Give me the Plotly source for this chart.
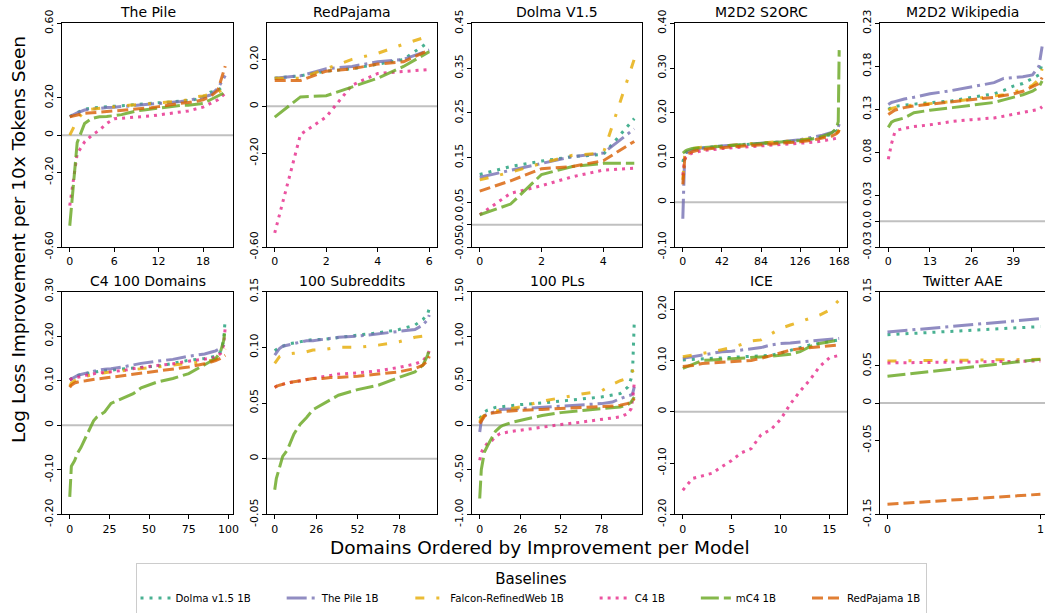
import plotly.graph_objects as go

# baselines (legend order) and their styling
MODELS = ["Dolma v1.5 1B", "The Pile 1B", "Falcon-RefinedWeb 1B", "C4 1B", "mC4 1B", "RedPajama 1B"]
COLORS = ["#1b9e77", "#7570b3", "#e6ab02", "#e7298a", "#66a61e", "#d95f02"]
DASHES = ["3px,6px", "20px,5px,3px,5px", "9px,12px,3px,12px", "3px,5px", "18px,5px", "11px,5px"]

# ---- The Pile ----
pile_x = list(range(22))
pile_y = {
    "Dolma v1.5 1B": [0.10, 0.12, 0.14, 0.145, 0.15, 0.152, 0.155, 0.158, 0.16, 0.163, 0.166, 0.168, 0.17, 0.173, 0.177, 0.182, 0.186, 0.192, 0.205, 0.23, 0.24, 0.27],
    "The Pile 1B": [0.10, 0.12, 0.135, 0.14, 0.145, 0.148, 0.15, 0.153, 0.157, 0.16, 0.163, 0.165, 0.168, 0.171, 0.175, 0.18, 0.186, 0.193, 0.204, 0.215, 0.25, 0.32],
    "Falcon-RefinedWeb 1B": [0.0, 0.08, 0.135, 0.14, 0.145, 0.15, 0.153, 0.156, 0.16, 0.163, 0.165, 0.168, 0.17, 0.173, 0.178, 0.183, 0.19, 0.205, 0.21, 0.22, 0.23, 0.25],
    "C4 1B": [-0.378, -0.10, -0.036, 0.0, 0.027, 0.063, 0.088, 0.09, 0.092, 0.095, 0.10, 0.103, 0.108, 0.113, 0.12, 0.125, 0.13, 0.14, 0.15, 0.17, 0.19, 0.225],
    "mC4 1B": [-0.486, -0.04, 0.063, 0.09, 0.099, 0.10, 0.105, 0.11, 0.12, 0.13, 0.135, 0.14, 0.145, 0.15, 0.155, 0.16, 0.16, 0.165, 0.17, 0.19, 0.21, 0.23],
    "RedPajama 1B": [0.099, 0.11, 0.117, 0.12, 0.123, 0.126, 0.129, 0.132, 0.135, 0.138, 0.14, 0.147, 0.153, 0.16, 0.165, 0.171, 0.175, 0.18, 0.19, 0.207, 0.24, 0.37],
}

# ---- RedPajama ----
redpj_x = list(range(7))
redpj_y = {
    "Dolma v1.5 1B": [0.12, 0.13, 0.15, 0.16, 0.18, 0.20, 0.276],
    "The Pile 1B": [0.12, 0.13, 0.16, 0.17, 0.19, 0.20, 0.24],
    "Falcon-RefinedWeb 1B": [0.12, 0.12, 0.16, 0.20, 0.226, 0.265, 0.30],
    "C4 1B": [-0.54, -0.12, -0.045, 0.09, 0.14, 0.15, 0.157],
    "mC4 1B": [-0.046, 0.04, 0.045, 0.083, 0.12, 0.17, 0.233],
    "RedPajama 1B": [0.11, 0.11, 0.15, 0.16, 0.18, 0.19, 0.24],
}

# ---- Dolma V1.5 ----
dolma_x = list(range(6))
dolma_y = {
    "Dolma v1.5 1B": [0.112, 0.13, 0.142, 0.152, 0.157, 0.237],
    "The Pile 1B": [0.106, 0.121, 0.136, 0.152, 0.16, 0.214],
    "Falcon-RefinedWeb 1B": [0.10, 0.117, 0.137, 0.155, 0.16, 0.37],
    "C4 1B": [0.022, 0.07, 0.087, 0.107, 0.122, 0.126],
    "mC4 1B": [0.022, 0.046, 0.112, 0.13, 0.137, 0.137],
    "RedPajama 1B": [0.075, 0.098, 0.125, 0.13, 0.143, 0.186],
}

# ---- M2D2 S2ORC ----
s2orc_x = [0, 1, 2, 3, 5, 10, 20, 42, 63, 84, 105, 126, 140, 150, 160, 165, 167, 168]
s2orc_y = {
    "Dolma v1.5 1B": [0.09, 0.10, 0.105, 0.11, 0.115, 0.118, 0.121, 0.125, 0.128, 0.131, 0.134, 0.138, 0.142, 0.146, 0.152, 0.158, 0.162, 0.168],
    "The Pile 1B": [-0.037, 0.08, 0.105, 0.108, 0.113, 0.117, 0.121, 0.126, 0.129, 0.132, 0.135, 0.14, 0.145, 0.15, 0.156, 0.162, 0.168, 0.175],
    "Falcon-RefinedWeb 1B": [0.05, 0.09, 0.105, 0.11, 0.115, 0.12, 0.123, 0.126, 0.129, 0.132, 0.135, 0.139, 0.143, 0.147, 0.15, 0.155, 0.158, 0.162],
    "C4 1B": [0.06, 0.085, 0.095, 0.10, 0.105, 0.11, 0.115, 0.12, 0.123, 0.126, 0.128, 0.131, 0.134, 0.137, 0.14, 0.143, 0.145, 0.147],
    "mC4 1B": [0.11, 0.112, 0.114, 0.115, 0.117, 0.12, 0.122, 0.125, 0.128, 0.131, 0.134, 0.138, 0.142, 0.147, 0.155, 0.165, 0.18, 0.34],
    "RedPajama 1B": [0.04, 0.08, 0.095, 0.10, 0.108, 0.113, 0.118, 0.122, 0.125, 0.128, 0.131, 0.135, 0.139, 0.143, 0.148, 0.153, 0.157, 0.162],
}

# ---- M2D2 Wikipedia ----
wiki_x = [0, 1, 2, 3, 5, 8, 13, 20, 26, 33, 36, 39, 42, 45, 47, 48]
wiki_y = {
    "Dolma v1.5 1B": [0.13, 0.132, 0.133, 0.134, 0.135, 0.136, 0.137, 0.14, 0.144, 0.148, 0.152, 0.157, 0.16, 0.166, 0.17, 0.183],
    "The Pile 1B": [0.1356, 0.138, 0.139, 0.14, 0.142, 0.144, 0.148, 0.152, 0.156, 0.161, 0.166, 0.167, 0.168, 0.17, 0.18, 0.203],
    "Falcon-RefinedWeb 1B": [0.129, 0.131, 0.132, 0.133, 0.134, 0.135, 0.137, 0.139, 0.142, 0.145, 0.147, 0.15, 0.153, 0.158, 0.165, 0.177],
    "C4 1B": [0.072, 0.09, 0.103, 0.106, 0.108, 0.11, 0.112, 0.116, 0.118, 0.12, 0.122, 0.124, 0.126, 0.128, 0.13, 0.133],
    "mC4 1B": [0.109, 0.115, 0.117, 0.118, 0.12, 0.126, 0.129, 0.132, 0.135, 0.138, 0.141, 0.144, 0.147, 0.151, 0.156, 0.163],
    "RedPajama 1B": [0.124, 0.127, 0.129, 0.13, 0.132, 0.134, 0.136, 0.138, 0.141, 0.144, 0.146, 0.148, 0.151, 0.156, 0.16, 0.167],
}

# ---- C4 100 Domains ----
c4d_x = [0, 1, 3, 5, 7, 10, 13, 15, 17, 22, 26, 35, 40, 45, 55, 65, 75, 85, 90, 92, 95, 97, 98]
c4d_y = {
    "Dolma v1.5 1B": [0.102, 0.105, 0.108, 0.112, 0.114, 0.116, 0.118, 0.12, 0.121, 0.123, 0.124, 0.127, 0.128, 0.129, 0.133, 0.139, 0.146, 0.15, 0.153, 0.155, 0.165, 0.19, 0.24],
    "The Pile 1B": [0.102, 0.104, 0.108, 0.112, 0.114, 0.117, 0.12, 0.122, 0.123, 0.126, 0.127, 0.132, 0.136, 0.139, 0.144, 0.148, 0.155, 0.16, 0.165, 0.167, 0.173, 0.18, 0.187],
    "Falcon-RefinedWeb 1B": [0.088, 0.095, 0.10, 0.105, 0.108, 0.11, 0.113, 0.114, 0.115, 0.118, 0.12, 0.123, 0.125, 0.126, 0.13, 0.134, 0.138, 0.143, 0.146, 0.148, 0.155, 0.165, 0.172],
    "C4 1B": [0.102, 0.104, 0.106, 0.108, 0.11, 0.112, 0.114, 0.116, 0.117, 0.119, 0.12, 0.124, 0.127, 0.13, 0.134, 0.138, 0.144, 0.148, 0.15, 0.152, 0.161, 0.18, 0.22],
    "mC4 1B": [-0.161, -0.092, -0.08, -0.062, -0.05, -0.026, -0.005, 0.01, 0.018, 0.03, 0.049, 0.064, 0.071, 0.084, 0.097, 0.105, 0.116, 0.136, 0.145, 0.15, 0.165, 0.19, 0.217],
    "RedPajama 1B": [0.085, 0.09, 0.095, 0.097, 0.099, 0.10, 0.102, 0.103, 0.104, 0.106, 0.108, 0.112, 0.114, 0.117, 0.121, 0.126, 0.131, 0.138, 0.142, 0.145, 0.15, 0.155, 0.157],
}

# ---- 100 Subreddits ----
subr_x = [0, 1, 3, 5, 8, 12, 16, 20, 24, 30, 35, 40, 52, 65, 78, 88, 93, 96, 97]
subr_y = {
    "Dolma v1.5 1B": [0.097, 0.098, 0.10, 0.101, 0.103, 0.104, 0.105, 0.106, 0.107, 0.107, 0.108, 0.109, 0.111, 0.113, 0.116, 0.12, 0.125, 0.13, 0.135],
    "The Pile 1B": [0.093, 0.095, 0.099, 0.101, 0.102, 0.104, 0.105, 0.106, 0.106, 0.107, 0.108, 0.109, 0.11, 0.112, 0.114, 0.116, 0.12, 0.125, 0.129],
    "Falcon-RefinedWeb 1B": [0.0856, 0.088, 0.0916, 0.093, 0.094, 0.0946, 0.095, 0.096, 0.0976, 0.098, 0.099, 0.10, 0.10, 0.102, 0.105, 0.109, 0.11, 0.111, 0.112],
    "C4 1B": [0.064, 0.065, 0.066, 0.067, 0.068, 0.069, 0.07, 0.071, 0.072, 0.074, 0.075, 0.076, 0.077, 0.079, 0.082, 0.085, 0.088, 0.093, 0.097],
    "mC4 1B": [-0.028, -0.018, -0.008, 0.002, 0.008, 0.022, 0.031, 0.037, 0.044, 0.049, 0.053, 0.057, 0.062, 0.066, 0.073, 0.078, 0.084, 0.093, 0.099],
    "RedPajama 1B": [0.064, 0.065, 0.066, 0.067, 0.068, 0.069, 0.07, 0.071, 0.072, 0.072, 0.073, 0.073, 0.074, 0.076, 0.078, 0.081, 0.084, 0.088, 0.092],
}

# ---- 100 PLs ----
pls_x = [0, 1, 2, 3, 5, 8, 10, 13, 15, 20, 26, 40, 52, 65, 78, 85, 90, 95, 97, 98, 99]
pls_y = {
    "Dolma v1.5 1B": [0.075, 0.10, 0.13, 0.15, 0.17, 0.19, 0.20, 0.206, 0.21, 0.22, 0.232, 0.25, 0.273, 0.29, 0.318, 0.34, 0.356, 0.43, 0.524, 0.655, 1.16],
    "The Pile 1B": [-0.075, 0.05, 0.094, 0.11, 0.124, 0.14, 0.155, 0.176, 0.18, 0.183, 0.187, 0.20, 0.213, 0.225, 0.243, 0.26, 0.30, 0.33, 0.34, 0.36, 0.43],
    "Falcon-RefinedWeb 1B": [0.037, 0.08, 0.10, 0.112, 0.13, 0.15, 0.16, 0.168, 0.175, 0.19, 0.206, 0.27, 0.31, 0.35, 0.385, 0.46, 0.50, 0.53, 0.60, 0.61, 0.62],
    "C4 1B": [-0.393, -0.31, -0.27, -0.243, -0.20, -0.168, -0.13, -0.094, -0.085, -0.07, -0.056, -0.02, 0.0075, 0.035, 0.064, 0.08, 0.094, 0.131, 0.187, 0.30, 0.475],
    "mC4 1B": [-0.823, -0.50, -0.40, -0.30, -0.23, -0.13, -0.07, -0.02, 0.0, 0.03, 0.056, 0.11, 0.142, 0.165, 0.187, 0.198, 0.206, 0.235, 0.26, 0.29, 0.318],
    "RedPajama 1B": [0.019, 0.05, 0.075, 0.10, 0.131, 0.14, 0.145, 0.15, 0.155, 0.16, 0.168, 0.178, 0.187, 0.196, 0.206, 0.215, 0.225, 0.245, 0.262, 0.275, 0.30],
}

# ---- ICE ----
ice_x = list(range(17))
ice_y = {
    "Dolma v1.5 1B": [0.101, 0.102, 0.103, 0.104, 0.105, 0.106, 0.107, 0.108, 0.109, 0.11, 0.114, 0.12, 0.125, 0.13, 0.133, 0.137, 0.14],
    "The Pile 1B": [0.104, 0.107, 0.11, 0.114, 0.117, 0.118, 0.12, 0.122, 0.125, 0.13, 0.133, 0.134, 0.136, 0.138, 0.14, 0.141, 0.143],
    "Falcon-RefinedWeb 1B": [0.107, 0.11, 0.113, 0.117, 0.121, 0.125, 0.131, 0.138, 0.14, 0.152, 0.1625, 0.169, 0.175, 0.182, 0.1885, 0.198, 0.218],
    "C4 1B": [-0.153, -0.13, -0.125, -0.12, -0.107, -0.095, -0.08, -0.072, -0.045, -0.035, -0.015, 0.015, 0.04, 0.062, 0.088, 0.105, 0.11],
    "mC4 1B": [0.0845, 0.092, 0.10, 0.101, 0.102, 0.104, 0.105, 0.106, 0.107, 0.108, 0.11, 0.112, 0.117, 0.127, 0.133, 0.137, 0.14],
    "RedPajama 1B": [0.088, 0.09, 0.094, 0.095, 0.096, 0.0975, 0.099, 0.10, 0.104, 0.109, 0.114, 0.12, 0.123, 0.125, 0.127, 0.128, 0.13],
}

# ---- Twitter AAE ----
aae_x = [0, 1]
aae_y = {
    "Dolma v1.5 1B": [0.092, 0.103],
    "The Pile 1B": [0.0957, 0.1136],
    "Falcon-RefinedWeb 1B": [0.0566, 0.0588],
    "C4 1B": [0.054, 0.0566],
    "mC4 1B": [0.036, 0.0588],
    "RedPajama 1B": [-0.1365, -0.123],
}

TITLES = ["The Pile", "RedPajama", "Dolma V1.5", "M2D2 S2ORC", "M2D2 Wikipedia",
          "C4 100 Domains", "100 Subreddits", "100 PLs", "ICE", "Twitter AAE"]
XS = [pile_x, redpj_x, dolma_x, s2orc_x, wiki_x, c4d_x, subr_x, pls_x, ice_x, aae_x]
YS = [pile_y, redpj_y, dolma_y, s2orc_y, wiki_y, c4d_y, subr_y, pls_y, ice_y, aae_y]

X_RANGES = [[-1.05, 22.05], [-0.3, 6.3], [-0.25, 5.25], [-8.4, 176.4], [-2.59, 48.9],
            [-4.9, 102.9], [-4.85, 101.85], [-4.95, 103.95], [-0.8, 16.8], [-0.049, 1.03]]
X_TICKS = [[0, 6, 12, 18], [0, 2, 4, 6], [0, 2, 4], [0, 42, 84, 126, 168], [0, 13, 26, 39],
           [0, 25, 50, 75, 100], [0, 26, 52, 78], [0, 26, 52, 78], [0, 5, 10, 15], [0, 1]]
Y_RANGES = [[-0.6, 0.6], [-0.6, 0.354], [-0.05, 0.45], [-0.1, 0.4], [-0.03, 0.23],
            [-0.2, 0.3], [-0.05, 0.15], [-1.0, 1.5], [-0.2, 0.234], [-0.15, 0.15]]
Y_TICKS = [
    ([-0.6, -0.2, 0, 0.2, 0.6], ["-0.60", "-0.20", "0", "0.20", "0.60"]),
    ([-0.6, -0.2, 0, 0.2], ["-0.60", "-0.20", "0", "0.20"]),
    ([-0.05, 0, 0.05, 0.15, 0.25, 0.35, 0.45], ["-0.05", "0.0", "0.05", "0.15", "0.25", "0.35", "0.45"]),
    ([-0.1, 0, 0.1, 0.2, 0.3, 0.4], ["-0.10", "0", "0.10", "0.20", "0.30", "0.40"]),
    ([-0.03, 0, 0.03, 0.08, 0.13, 0.18, 0.23], ["-0.03", "0.0", "0.03", "0.08", "0.13", "0.18", "0.23"]),
    ([-0.2, -0.1, 0, 0.1, 0.2, 0.3], ["-0.20", "-0.10", "0", "0.10", "0.20", "0.30"]),
    ([-0.05, 0, 0.05, 0.1, 0.15], ["-0.05", "0", "0.05", "0.10", "0.15"]),
    ([-1.0, -0.5, 0, 0.5, 1.0, 1.5], ["-1.00", "-0.50", "0", "0.50", "1.00", "1.50"]),
    ([-0.2, -0.1, 0, 0.1, 0.2], ["-0.20", "-0.10", "0", "0.10", "0.20"]),
    ([-0.15, -0.05, 0, 0.05, 0.15], ["-0.15", "-0.05", "0", "0.05", "0.15"]),
]

W, H = 1045, 613
COL_PX = [(62, 233), (267, 437), (472, 642), (675, 847), (880, 1045)]
ROW_PX = [(23.3, 247), (291.7, 514.3)]
FONT = "DejaVu Sans"
PAD = "\u00a0" * 8  # extra room after each legend entry (not after the last one)

fig = go.Figure()
layout = {}
shapes = []
annotations = []

for i, title in enumerate(TITLES):
    n = i + 1
    row, col = divmod(i, 5)
    xa = "x" if n == 1 else f"x{n}"
    ya = "y" if n == 1 else f"y{n}"
    xkey = "xaxis" if n == 1 else f"xaxis{n}"
    ykey = "yaxis" if n == 1 else f"yaxis{n}"
    x0, x1 = COL_PX[col]
    top, bot = ROW_PX[row]

    layout[xkey] = dict(
        domain=[x0 / W, x1 / W], anchor=ya, range=X_RANGES[i],
        tickvals=X_TICKS[i], showgrid=False, zeroline=False,
        showline=True, linecolor="black", linewidth=1, mirror=True,
        ticks="outside", ticklen=4, tickcolor="black",
        tickfont=dict(family=FONT, size=11, color="black"),
    )
    tv, tt = Y_TICKS[i]
    layout[ykey] = dict(
        domain=[1 - bot / H, 1 - top / H], anchor=xa, range=Y_RANGES[i],
        tickvals=tv, ticktext=tt, tickangle=-90, showgrid=False, zeroline=False,
        showline=True, linecolor="black", linewidth=1, mirror=(col != 4),
        ticks="outside", ticklen=4, tickcolor="black",
        tickfont=dict(family=FONT, size=11, color="black"),
    )

    shapes.append(dict(type="line", xref=f"{xa} domain", yref=ya, x0=0, x1=1, y0=0, y1=0,
                       line=dict(color="#c0c0c0", width=2), layer="below"))

    annotations.append(dict(text=title, x=(x0 + x1) / 2 / W, y=1 - (top - 11) / H,
                            xref="paper", yref="paper", showarrow=False,
                            xanchor="center", yanchor="middle",
                            font=dict(family=FONT, size=14, color="black")))

    for m, model in enumerate(MODELS):
        label = model if m == len(MODELS) - 1 else model + PAD
        fig.add_trace(go.Scatter(
            x=XS[i], y=YS[i][model], name=label, mode="lines",
            xaxis=xa, yaxis=ya, legendgroup=model, showlegend=(i == 0),
            opacity=0.8,
            line=dict(color=COLORS[m], width=3, dash=DASHES[m]),
        ))

annotations.append(dict(text="Log Loss Improvement per 10x Tokens Seen", x=18 / W, y=1 - 240 / H,
                        xref="paper", yref="paper", showarrow=False, textangle=-90,
                        xanchor="center", yanchor="middle",
                        font=dict(family=FONT, size=18.5, color="black")))
annotations.append(dict(text="Domains Ordered by Improvement per Model", x=540 / W, y=1 - 547 / H,
                        xref="paper", yref="paper", showarrow=False,
                        xanchor="center", yanchor="middle",
                        font=dict(family=FONT, size=18.5, color="black")))

fig.update_layout(
    **layout,
    width=W, height=H,
    margin=dict(l=0, r=0, t=0, b=0, autoexpand=False),
    paper_bgcolor="white", plot_bgcolor="white",
    shapes=shapes, annotations=annotations,
    legend=dict(
        orientation="h", x=531 / W, xanchor="center", y=1 - 563 / H, yanchor="top",
        bordercolor="#cccccc", borderwidth=1, bgcolor="white",
        tracegroupgap=0, itemwidth=30,
        font=dict(family=FONT, size=10.2, color="black"),
        title=dict(text="Baselines", side="top center", font=dict(family=FONT, size=15, color="black")),
    ),
)

# the page body has a default 8px margin; drop it so the figure sits at the window corner
fig.write_html("out.html", config={"displayModeBar": False},
               post_script="document.body.style.margin='0';")
